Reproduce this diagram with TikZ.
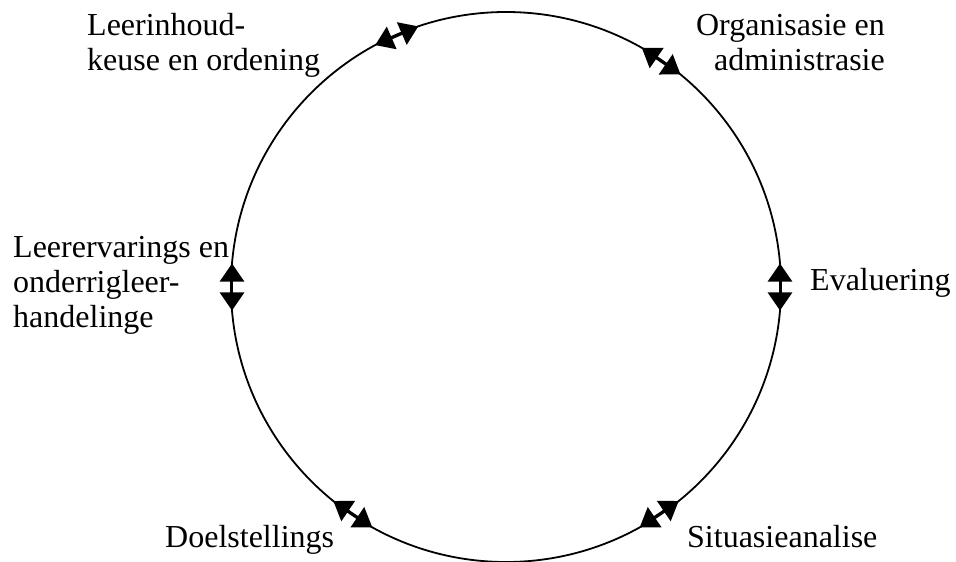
\documentclass[tikz,border=0pt]{standalone}
\usepackage{fontspec}
\setmainfont{Liberation Serif}
\usetikzlibrary{arrows.meta,calc}
\begin{document}
\begin{tikzpicture}[x=1pt,y=-1pt,
  ring/.style={line width=1.8pt},
  link/.style={line width=2.8pt,
    {Triangle[length=18pt,width=24pt]}-{Triangle[length=18pt,width=24pt]}},
  lbl/.style={inner sep=0pt,font=\fontsize{32}{35}\selectfont}]
\useasboundingbox (0,0) rectangle (956,562);
% the cycle
\coordinate (c) at (506,287);
\draw[ring] (c) circle[radius=275];
% two-way links between the phases
\foreach \name/\ang in {org/55.5, inh/113.5, erv/180, doel/236, sit/304, eval/0} {
  \coordinate (\name-a) at ($(c)+(-\ang-4.9:275)$);
  \coordinate (\name-b) at ($(c)+(-\ang+4.9:275)$);
  \draw[link] (\name-a) -- (\name-b);
}
% phase labels
\node[lbl,anchor=base west] (t-inh) at (87,35)
  {\begin{tabular}[t]{@{}l@{}}Leerinhoud-\\keuse en ordening\end{tabular}};
\node[lbl,anchor=base east] (t-org) at (885,35)
  {\begin{tabular}[t]{@{}r@{}}Organisasie en\\administrasie\end{tabular}};
\node[lbl,anchor=base west] (t-erv) at (13,257)
  {\begin{tabular}[t]{@{}l@{}}Leerervarings en\\onderrigleer-\\handelinge\end{tabular}};
\node[lbl,anchor=base west] (t-eval) at (810,290) {Evaluering};
\node[lbl,anchor=base west] (t-doel) at (165,547) {Doelstellings};
\node[lbl,anchor=base west] (t-sit) at (687,547) {Situasieanalise};
\end{tikzpicture}
\end{document}
